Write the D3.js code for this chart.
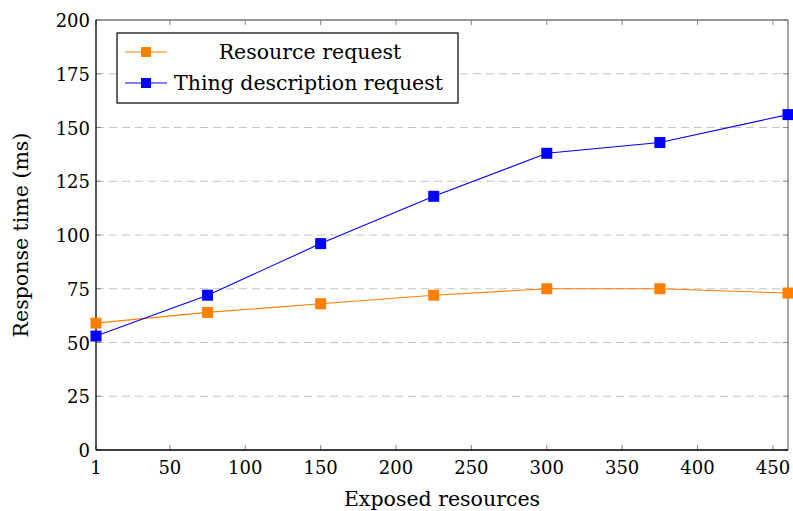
<!DOCTYPE html>
<html>
<head>
<meta charset="utf-8">
<script src="https://cdn.jsdelivr.net/npm/d3@7"></script>
<style>
  body { margin: 0; background: #fff; }
</style>
</head>
<body>
<div id="chart"></div>
<script>
// data
var resources = [1, 75, 150, 225, 300, 375, 460];
var resourceReq = [59, 64, 68, 72, 75, 75, 73];
var thingReq = [53, 72, 96, 118, 138, 143, 156];
var xTicks = [1, 50, 100, 150, 200, 250, 300, 350, 400, 450];
var yTicks = [0, 25, 50, 75, 100, 125, 150, 175, 200];
var seriesNames = ["Resource request", "Thing description request"];
var seriesColors = ["#ff7f00", "#0000ff"];

var width = 793, height = 511;
var margin = {top: 20, right: 5, bottom: 61, left: 96};
var w = width - margin.left - margin.right,
    h = height - margin.top - margin.bottom;
var font = "DejaVu Serif";

var svg = d3.select("#chart").append("svg")
    .attr("width", width)
    .attr("height", height)
    .style("font-family", font);

var g = svg.append("g")
    .attr("transform", "translate(" + margin.left + "," + margin.top + ")");

var x = d3.scaleLinear().domain([1, 460]).range([0, w]);
var y = d3.scaleLinear().domain([0, 200]).range([h, 0]);

// grid lines
g.selectAll(".grid")
    .data(yTicks.filter(function(d) { return d > 0 && d < 200; }))
    .enter().append("line")
    .attr("x1", 0).attr("x2", w)
    .attr("y1", function(d) { return y(d); })
    .attr("y2", function(d) { return y(d); })
    .attr("stroke", "#c4c4c4")
    .attr("stroke-width", 1)
    .attr("stroke-dasharray", "8,5");

// ticks, inside, on all four sides
var tickLen = 5;
g.selectAll(".xtb").data(xTicks).enter().append("line")
    .attr("x1", function(d) { return x(d); }).attr("x2", function(d) { return x(d); })
    .attr("y1", h).attr("y2", h - tickLen)
    .attr("stroke", "#888").attr("stroke-width", 1);
g.selectAll(".xtt").data(xTicks).enter().append("line")
    .attr("x1", function(d) { return x(d); }).attr("x2", function(d) { return x(d); })
    .attr("y1", 0).attr("y2", tickLen)
    .attr("stroke", "#888").attr("stroke-width", 1);
g.selectAll(".ytl").data(yTicks).enter().append("line")
    .attr("x1", 0).attr("x2", tickLen)
    .attr("y1", function(d) { return y(d); }).attr("y2", function(d) { return y(d); })
    .attr("stroke", "#888").attr("stroke-width", 1);
g.selectAll(".ytr").data(yTicks).enter().append("line")
    .attr("x1", w).attr("x2", w - tickLen)
    .attr("y1", function(d) { return y(d); }).attr("y2", function(d) { return y(d); })
    .attr("stroke", "#888").attr("stroke-width", 1);

// frame
g.append("line").attr("x1", 0).attr("x2", w).attr("y1", 0).attr("y2", 0)
    .attr("stroke", "#777").attr("stroke-width", 1.3);
g.append("line").attr("x1", w).attr("x2", w).attr("y1", 0).attr("y2", h)
    .attr("stroke", "#777").attr("stroke-width", 1.3);
g.append("line").attr("x1", 0).attr("x2", 0).attr("y1", 0).attr("y2", h)
    .attr("stroke", "#000").attr("stroke-width", 1.3);
g.append("line").attr("x1", 0).attr("x2", w).attr("y1", h).attr("y2", h)
    .attr("stroke", "#000").attr("stroke-width", 1.3);

// tick labels
g.selectAll(".xl").data(xTicks).enter().append("text")
    .attr("x", function(d) { return x(d); })
    .attr("y", h + 24)
    .attr("text-anchor", "middle")
    .attr("font-size", 18)
    .text(function(d) { return d; });
g.selectAll(".yl").data(yTicks).enter().append("text")
    .attr("x", -6)
    .attr("y", function(d) { return y(d) + 7; })
    .attr("text-anchor", "end")
    .attr("font-size", 18)
    .text(function(d) { return d; });

// axis titles
svg.append("text")
    .attr("x", margin.left + w / 2)
    .attr("y", 506)
    .attr("text-anchor", "middle")
    .attr("font-size", 20.5)
    .text("Exposed resources");
svg.append("text")
    .attr("transform", "translate(28," + (margin.top + h / 2) + ") rotate(-90)")
    .attr("text-anchor", "middle")
    .attr("font-size", 20.5)
    .text("Response time (ms)");

// series
var series = [resourceReq, thingReq];
var line = d3.line()
    .x(function(d, i) { return x(resources[i]); })
    .y(function(d) { return y(d); });

var ms = 11;
series.forEach(function(vals, s) {
    g.append("path")
        .datum(vals)
        .attr("fill", "none")
        .attr("stroke", seriesColors[s])
        .attr("stroke-width", 1.1)
        .attr("d", line);
    g.selectAll(".m" + s).data(vals).enter().append("rect")
        .attr("x", function(d, i) { return x(resources[i]) - ms / 2; })
        .attr("y", function(d) { return y(d) - ms / 2; })
        .attr("width", ms).attr("height", ms)
        .attr("fill", seriesColors[s]);
});

// legend
var leg = svg.append("g").attr("transform", "translate(117,33)");
leg.append("rect")
    .attr("x", 0).attr("y", 0)
    .attr("width", 341).attr("height", 70)
    .attr("fill", "#fff")
    .attr("stroke", "#000").attr("stroke-width", 1.2);
seriesNames.forEach(function(name, s) {
    var ry = 19 + s * 31;
    leg.append("line")
        .attr("x1", 8).attr("x2", 50)
        .attr("y1", ry).attr("y2", ry)
        .attr("stroke", seriesColors[s]).attr("stroke-width", 1.1);
    leg.append("rect")
        .attr("x", 29 - 5).attr("y", ry - 5)
        .attr("width", 10).attr("height", 10)
        .attr("fill", seriesColors[s]);
    leg.append("text")
        .attr("x", s === 0 ? 193 : 57)
        .attr("y", ry + 7)
        .attr("text-anchor", s === 0 ? "middle" : "start")
        .attr("font-size", 20.5)
        .text(name);
});
</script>
</body>
</html>
